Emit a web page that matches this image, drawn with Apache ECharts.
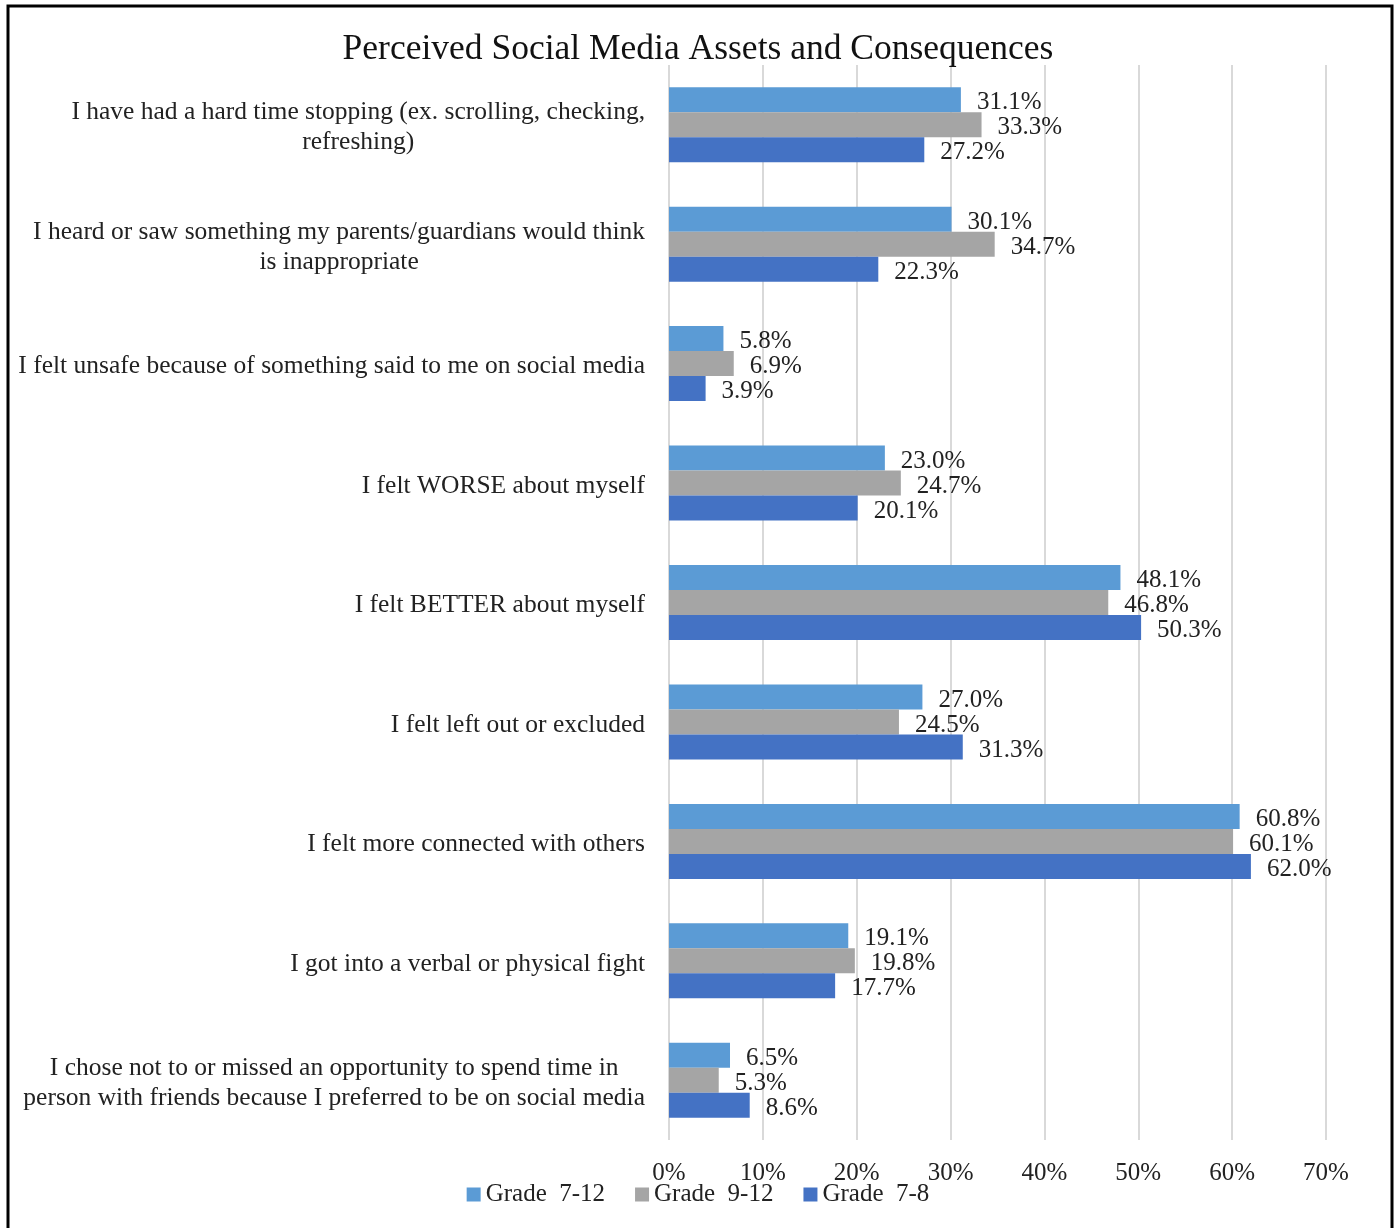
<!DOCTYPE html>
<html>
<head>
<meta charset="utf-8">
<title>Perceived Social Media Assets and Consequences</title>
<script src="https://cdn.jsdelivr.net/npm/echarts@6/dist/echarts.min.js"></script>
<style>
  html, body { margin: 0; padding: 0; background: #fff; }
  #chart { width: 1396px; height: 1228px; }
</style>
</head>
<body>
<div id="chart"></div>
<script>
// Survey items, listed top to bottom
const categories = [
  'I have had a hard time stopping (ex. scrolling, checking,\nrefreshing)',
  'I heard or saw something my parents/guardians would think\nis inappropriate',
  'I felt unsafe because of something said to me on social media',
  'I felt WORSE about myself',
  'I felt BETTER about myself',
  'I felt left out or excluded',
  'I felt more connected with others',
  'I got into a verbal or physical fight',
  'I chose not to or missed an opportunity to spend time in\nperson with friends because I preferred to be on social media'
];

// Percent of respondents per grade group
const grade7to12 = [31.1, 30.1, 5.8, 23.0, 48.1, 27.0, 60.8, 19.1, 6.5];
const grade9to12 = [33.3, 34.7, 6.9, 24.7, 46.8, 24.5, 60.1, 19.8, 5.3];
const grade7to8  = [27.2, 22.3, 3.9, 20.1, 50.3, 31.3, 62.0, 17.7, 8.6];

const seriesNames = ['Grade  7-12', 'Grade  9-12', 'Grade  7-8'];
const axisTicks = [0, 10, 20, 30, 40, 50, 60, 70];

const FONT = '"Liberation Serif", "DejaVu Serif", serif';
const colors = ['#5B9BD5', '#A5A5A5', '#4472C4'];

const chart = echarts.init(document.getElementById('chart'));

function makeSeries(name, values, color) {
  return {
    name: name,
    type: 'bar',
    data: values,
    barWidth: 25,
    barGap: '0%',
    itemStyle: { color: color },
    label: {
      show: true,
      position: 'right',
      distance: 16,
      offset: [0, 3],
      formatter: p => p.value.toFixed(1) + '%',
      color: '#222',
      fontFamily: FONT,
      fontSize: 25
    },
    emphasis: { disabled: true }
  };
}

chart.setOption({
  animation: false,
  textStyle: { fontFamily: FONT },
  title: {
    text: 'Perceived Social Media Assets and Consequences',
    left: 'center',
    top: 27,
    textStyle: { fontFamily: FONT, fontSize: 35.5, fontWeight: 'normal', color: '#111' }
  },
  legend: {
    bottom: 16,
    left: 'center',
    itemWidth: 14,
    itemHeight: 14,
    itemGap: 30,
    icon: 'rect',
    textStyle: { fontFamily: FONT, fontSize: 25, color: '#222' },
    data: seriesNames
  },
  grid: { left: 669, right: 70, top: 65, bottom: 88, containLabel: false },
  xAxis: {
    type: 'value',
    min: axisTicks[0],
    max: axisTicks[axisTicks.length - 1],
    interval: 10,
    axisLine: { show: false },
    axisTick: { show: false },
    axisLabel: {
      margin: 21,
      formatter: v => v + '%',
      color: '#222',
      fontFamily: FONT,
      fontSize: 25
    },
    splitLine: { show: true, lineStyle: { color: '#D9D9D9', width: 2 } }
  },
  yAxis: {
    type: 'category',
    inverse: true,
    data: categories,
    axisLine: { show: false },
    axisTick: { show: false },
    axisLabel: {
      margin: 24,
      align: 'right',
      padding: [6, 0, 0, 0],
      color: '#222',
      fontFamily: FONT,
      fontSize: 25.5,
      lineHeight: 30,
      formatter: v => v.split('\n').map(l => '{c|' + l + '}').join('\n'),
      rich: {
        c: { align: 'center', fontFamily: FONT, fontSize: 25.5, lineHeight: 30, color: '#222' }
      }
    }
  },
  graphic: [
    {
      type: 'polyline',
      silent: true,
      shape: { points: [[8, 1228], [8, 6], [1392, 6], [1392, 1228]] },
      style: { stroke: '#000', lineWidth: 3, fill: null }
    }
  ],
  series: [
    makeSeries(seriesNames[0], grade7to12, colors[0]),
    makeSeries(seriesNames[1], grade9to12, colors[1]),
    makeSeries(seriesNames[2], grade7to8, colors[2])
  ]
});
</script>
</body>
</html>
